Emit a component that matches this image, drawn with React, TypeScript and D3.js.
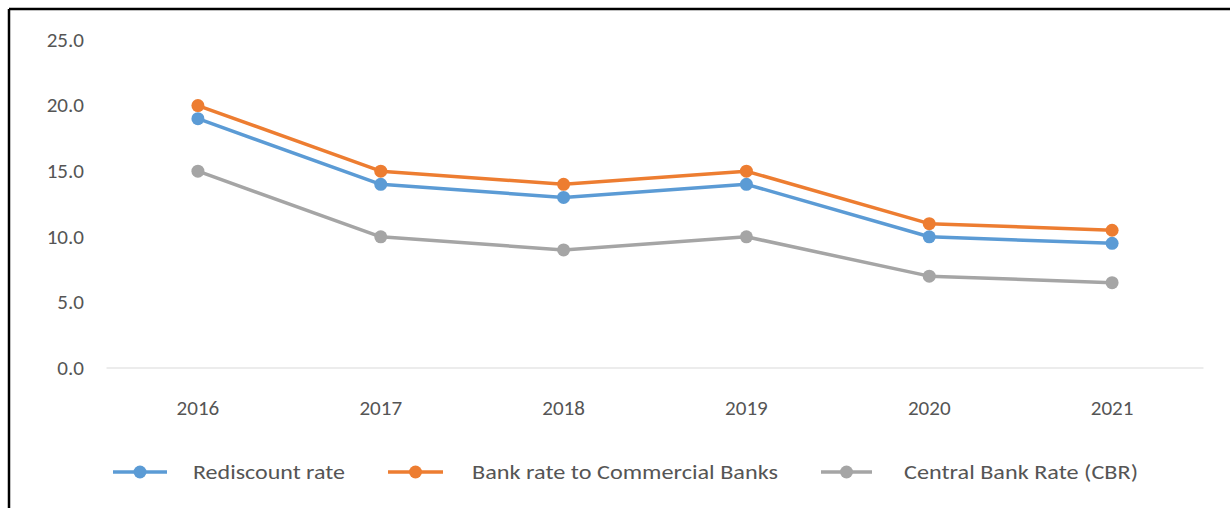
import React from "react";
import * as d3 from "d3";

const years = ["2016", "2017", "2018", "2019", "2020", "2021"];
const rediscount = [19, 14, 13, 14, 10, 9.5];
const bankRate = [20, 15, 14, 15, 11, 10.5];
const cbr = [15, 10, 9, 10, 7, 6.5];
const yTicks = [0, 5, 10, 15, 20, 25];

const seriesNames = ["Rediscount rate", "Bank rate to Commercial Banks", "Central Bank Rate (CBR)"];
const seriesColors = ["#5B9BD5", "#ED7D31", "#A5A5A5"];
const seriesValues = [rediscount, bankRate, cbr];

const legendPos = [
  [113, 167, 193, 152],
  [388, 443, 472, 306],
  [821, 872, 904, 234],
];

const FONT = "Carlito, Calibri, 'Open Sans', sans-serif";
const SX = 1.08;

export default function App() {
  const W = 1230, H = 508;
  const x = d3.scaleBand<string>().domain(years).range([106.5, 1203.5]);
  const y = d3.scaleLinear().domain([0, 25]).range([368, 40]);
  const cx = (i: number) => (x(years[i]) as number) + x.bandwidth() / 2;
  const line = d3
    .line<number>()
    .x((_, i) => cx(i))
    .y((d) => y(d));

  const order = [2, 0, 1];

  return (
    <svg width={W} height={H} style={{ position: "absolute", left: 0, top: 0 }} fontFamily={FONT}>
      <rect x={0} y={0} width={W} height={H} fill="#fff" />
      <line x1={9} y1={9} x2={W} y2={9} stroke="#000" strokeWidth={2.5} />
      <line x1={9} y1={9} x2={9} y2={H} stroke="#000" strokeWidth={2.5} />
      <line x1={106.5} x2={1203.5} y1={y(0)} y2={y(0)} stroke="#D9D9D9" strokeWidth={1.2} />
      {yTicks.map((t) => (
        <text
          key={t}
          transform={`translate(84,${y(t)}) scale(${SX},1)`}
          dy="0.35em"
          textAnchor="end"
          fontSize={19.5}
          fill="#555"
        >
          {t.toFixed(1)}
        </text>
      ))}
      {years.map((yr, i) => (
        <text
          key={yr}
          transform={`translate(${cx(i)},408) scale(${SX},1)`}
          dy="0.35em"
          textAnchor="middle"
          fontSize={19.5}
          fill="#555"
        >
          {yr}
        </text>
      ))}
      {order.map((si) => (
        <g key={si}>
          <path
            d={line(seriesValues[si]) || ""}
            fill="none"
            stroke={seriesColors[si]}
            strokeWidth={3.5}
            strokeLinejoin="round"
          />
          {seriesValues[si].map((v, i) => (
            <circle key={i} cx={cx(i)} cy={y(v)} r={6.5} fill={seriesColors[si]} />
          ))}
        </g>
      ))}
      {seriesNames.map((n, i) => {
        const [a, b, tx, tl] = legendPos[i];
        return (
          <g key={n}>
            <line x1={a} x2={b} y1={472} y2={472} stroke={seriesColors[i]} strokeWidth={3.5} />
            <circle cx={(a + b) / 2} cy={472} r={6.5} fill={seriesColors[i]} />
            <text
              x={tx}
              y={472}
              dy="0.35em"
              fontSize={20}
              fill="#555"
              textLength={tl}
              lengthAdjust="spacingAndGlyphs"
            >
              {n}
            </text>
          </g>
        );
      })}
    </svg>
  );
}
